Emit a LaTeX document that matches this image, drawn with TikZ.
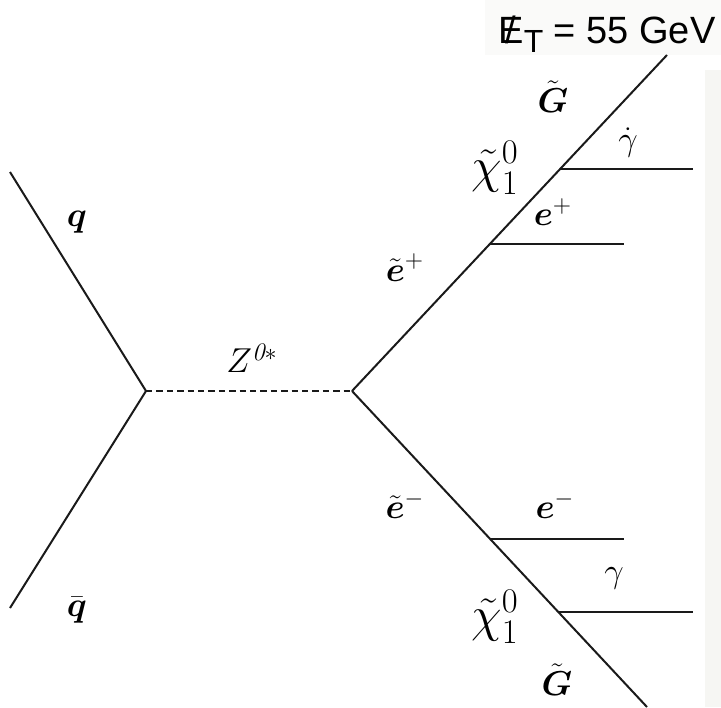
\documentclass[tikz,border=0pt]{standalone}
\usepackage{amsmath,amssymb}
\usepackage{fontspec}
\newfontfamily\metfont{Liberation Sans}
\usetikzlibrary{positioning,calc}
\definecolor{tinta}{HTML}{1A1A1A}
\definecolor{fondo}{HTML}{F6F6F3}
\newcommand{\slashE}{\ooalign{E\cr\hidewidth/\hidewidth\cr}}

\begin{document}
\begin{tikzpicture}[
  x=0.5pt, y=-0.5pt,
  prop/.style={draw=tinta, line width=1pt},
  bos/.style={prop, dash pattern=on 3.2pt off 2pt},
  lbl/.style={inner sep=0pt, font=\fontsize{18}{20}\selectfont},
  neut/.style={inner sep=0pt, font=\fontsize{23}{26}\selectfont}
]
  \useasboundingbox (0,0) rectangle (721,707);
  % faint backdrop of the scan
  \fill[fondo!50] (485,0) rectangle (721,55);
  \fill[fondo] (705,70) rectangle (721,707);

  % vertices
  \coordinate (qin)  at (10,172);
  \coordinate (qbin) at (10,608);
  \coordinate (vl)   at (146,391);
  \coordinate (vr)   at (352,391);
  \coordinate (top)  at (667,55);
  \coordinate (bot)  at (647,707);
  \coordinate (vep)  at ($(vr)!0.438!(top)$);
  \coordinate (vgu)  at ($(vr)!0.660!(top)$);
  \coordinate (vem)  at ($(vr)!0.468!(bot)$);
  \coordinate (vgd)  at ($(vr)!0.698!(bot)$);
  \coordinate (epend) at (624,0 |- vep);
  \coordinate (guend) at (693,0 |- vgu);
  \coordinate (emend) at (624,0 |- vem);
  \coordinate (gdend) at (693,0 |- vgd);

  % propagators
  \draw[prop] (qin) -- (vl);
  \draw[prop] (qbin) -- (vl);
  \draw[bos] (vl) -- (vr);
  \draw[prop] (vr) -- (top);
  \draw[prop] (vr) -- (bot);
  \draw[prop] (vep) -- (epend);
  \draw[prop] (vgu) -- (guend);
  \draw[prop] (vem) -- (emend);
  \draw[prop] (vgd) -- (gdend);

  % labels
  \node[lbl] (q)    at (77,222) {$\boldsymbol{q}$};
  \node[lbl] (qb)   at (77,610) {$\bar{\boldsymbol{q}}$};
  \node[lbl] (z)    at (252,358) {$Z^{\mathit{0}*}$};
  \node[lbl] (selp) at (405,268) {$\tilde{\boldsymbol{e}}^{+}$};
  \node[neut] (chu) at (495,168) {$\tilde{\chi}_1^0$};
  \node[lbl] (ep)   at (553,212) {$\boldsymbol{e}^{+}$};
  \node[lbl] (gru)  at (553,97)  {$\tilde{\boldsymbol{G}}$};
  \node[lbl] (gau)  at (628,143) {$\dot{\gamma}$};
  \node[lbl] (selm) at (405,505) {$\tilde{\boldsymbol{e}}^{-}$};
  \node[lbl] (em)   at (555,505) {$\boldsymbol{e}^{-}$};
  \node[lbl] (gad)  at (614,578) {$\gamma$};
  \node[neut] (chd) at (495,617) {$\tilde{\chi}_1^0$};
  \node[lbl] (grd)  at (557,680) {$\tilde{\boldsymbol{G}}$};
  \node[inner sep=0pt, anchor=base west, font=\metfont\fontsize{19}{22}\selectfont] (met)
    at (498,43) {\slashE\raisebox{-0.45ex}{\fontsize{16}{18}\selectfont T} = 55 GeV};
\end{tikzpicture}
\end{document}
